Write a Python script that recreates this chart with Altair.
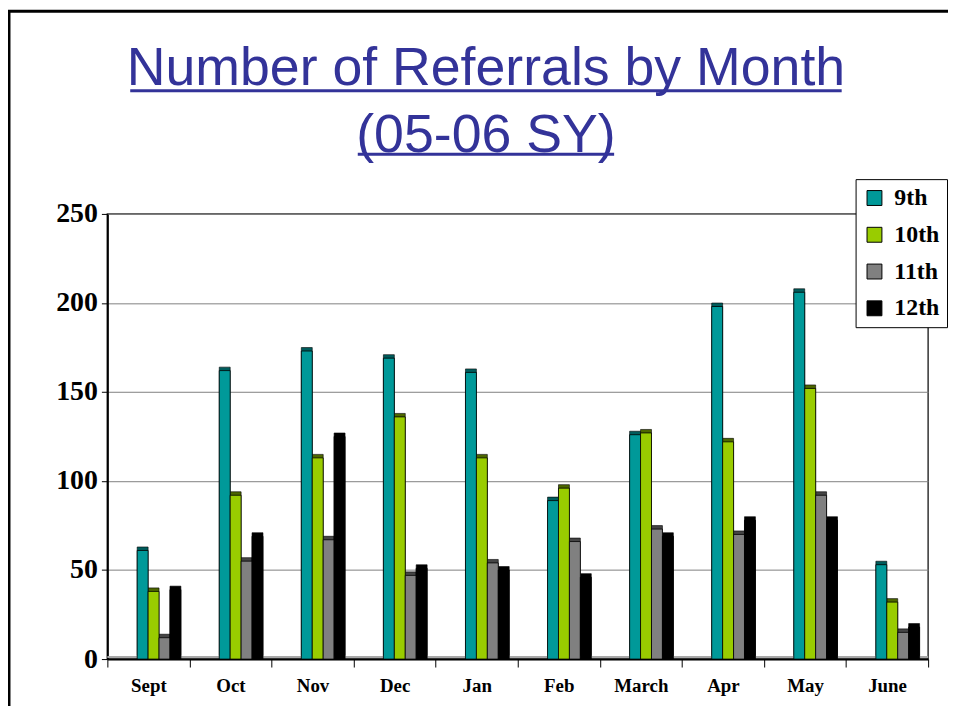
import altair as alt
import pandas as pd

title_lines = ["Number of Referrals by Month", "(05-06 SY)"]
months = ["Sept", "Oct", "Nov", "Dec", "Jan", "Feb", "March", "Apr", "May", "June"]
grades = ["9th", "10th", "11th", "12th"]
g9 = [61, 162, 173, 169, 161, 89, 126, 198, 206, 53]
g10 = [38, 92, 113, 136, 113, 96, 127, 122, 152, 32]
g11 = [12, 55, 67, 47, 54, 66, 73, 70, 92, 15]
g12 = [39, 69, 125, 51, 50, 46, 69, 78, 78, 18]
colors = ["#009999", "#99CC00", "#808080", "#000000"]
side_colors = ["#005c5c", "#4d6600", "#454545", "#000000"]

rows = []
for g, vals in zip(grades, [g9, g10, g11, g12]):
    for m, v in zip(months, vals):
        rows.append({"Month": m, "Grade": g, "Referrals": v})
df = pd.DataFrame(rows)

W, H = 826, 448

x_enc = alt.X("Month:N", sort=months, title=None,
              scale=alt.Scale(paddingInner=0, paddingOuter=0),
              axis=alt.Axis(labelAngle=0, labelFont="Liberation Serif", labelFontWeight="bold",
                            labelFontSize=19, labelColor="black", labelPadding=10,
                            tickSize=8, tickColor="black", tickBand="extent",
                            domainColor="black", domainWidth=2, grid=False))
y_enc = alt.Y("Referrals:Q", title=None,
              scale=alt.Scale(domain=[0, 250], nice=False),
              axis=alt.Axis(values=[0, 50, 100, 150, 200, 250], labelFont="Liberation Serif",
                            labelFontWeight="bold", labelFontSize=28, labelColor="black",
                            labelPadding=4, tickSize=6, tickColor="black",
                            domainColor="black", domainWidth=2,
                            grid=True, gridColor="#808080", gridWidth=1))
xoff = alt.XOffset("Grade:N", sort=grades,
                   scale=alt.Scale(paddingInner=0, paddingOuter=0, range=[30, 74]))

side = alt.Chart(df).mark_bar(xOffset=4, yOffset=-3.5, stroke="black", strokeWidth=0.6).encode(
    x=x_enc, y=y_enc, xOffset=xoff,
    color=alt.Color("Grade:N", sort=grades, legend=None,
                    scale=alt.Scale(domain=grades, range=side_colors)),
)

front = alt.Chart(df).mark_bar(stroke="black", strokeWidth=0.8).encode(
    x=x_enc, y=y_enc, xOffset=xoff,
    color=alt.Color("Grade:N", sort=grades, title=None,
                    scale=alt.Scale(domain=grades, range=colors),
                    legend=alt.Legend(orient="none", legendX=753, legendY=-35,
                                      title=None, symbolType="square", symbolSize=225,
                                      symbolStrokeColor="black", symbolStrokeWidth=1,
                                      labelFont="Liberation Serif", labelFontWeight="bold",
                                      labelFontSize=24, labelColor="black", rowPadding=13,
                                      padding=7, strokeColor="black", fillColor="white",
                                      labelOffset=8)),
)

one = pd.DataFrame({"k": [0]})
frame_left = alt.Chart(one).mark_rule(color="black", strokeWidth=3).encode(
    x=alt.value(-99), y=alt.value(-205), y2=alt.value(H + 50))
frame_top = alt.Chart(one).mark_rule(color="black", strokeWidth=3).encode(
    x=alt.value(-100), x2=alt.value(W + 40), y=alt.value(-204))
floor = alt.Chart(one).mark_rule(color="#a8a8a8", strokeWidth=2).encode(
    x=alt.value(0), x2=alt.value(W), y=alt.value(H - 2))

t1 = alt.Chart(pd.DataFrame({"t": [title_lines[0]]})).mark_text(
    font="Liberation Sans", fontSize=54, color="#333399", align="center", baseline="alphabetic"
).encode(text="t:N", x=alt.value(381), y=alt.value(-130))
t2 = alt.Chart(pd.DataFrame({"t": [title_lines[1]]})).mark_text(
    font="Liberation Sans", fontSize=54, color="#333399", align="center", baseline="alphabetic"
).encode(text="t:N", x=alt.value(381), y=alt.value(-62))
ul1 = alt.Chart(one).mark_rule(color="#333399", strokeWidth=3).encode(
    x=alt.value(23), x2=alt.value(739), y=alt.value(-124))
ul2 = alt.Chart(one).mark_rule(color="#333399", strokeWidth=3).encode(
    x=alt.value(252), x2=alt.value(510), y=alt.value(-60))

chart = alt.layer(floor, side, front, frame_left, frame_top, t1, t2, ul1, ul2).resolve_scale(
    color="independent"
).properties(
    width=W, height=H,
    autosize=alt.AutoSizeParams(type="none"),
    padding={"left": 100, "top": 205, "right": 20, "bottom": 45},
).configure_view(stroke="#333333", strokeWidth=1.5)

chart.save("out.html", embed_options={"renderer": "svg", "actions": False})
